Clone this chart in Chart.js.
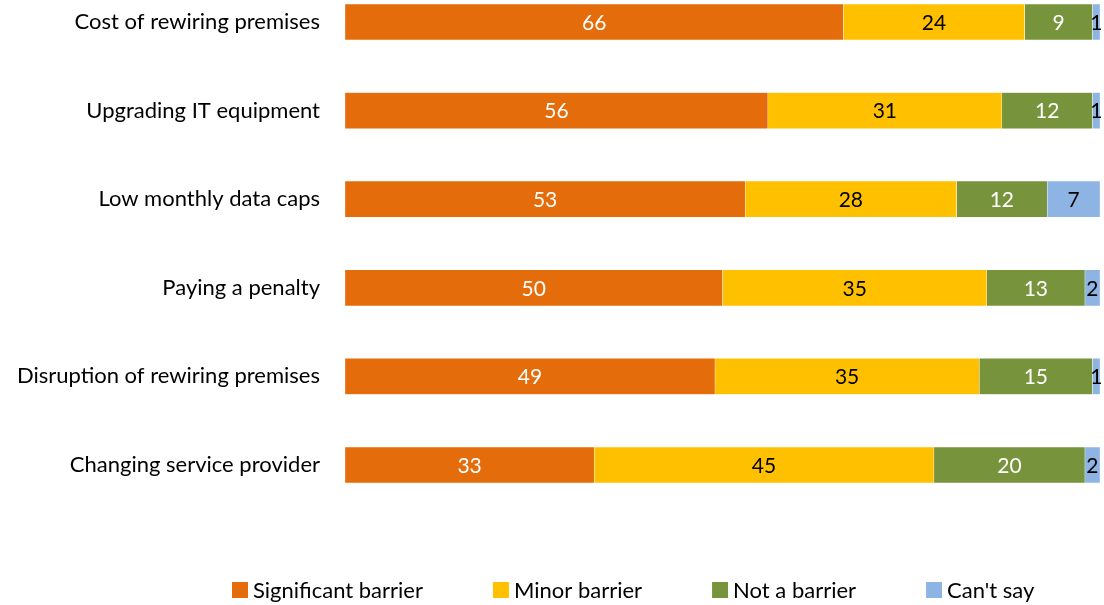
<!DOCTYPE html>
<html><head><meta charset="utf-8">
<script src="https://cdn.jsdelivr.net/npm/chart.js@4/dist/chart.umd.min.js"></script>
<style>html,body{margin:0;padding:0;background:#fff}#wrap{width:1104px;height:605px;position:relative}</style>
</head><body><div id="wrap"><canvas id="c"></canvas></div>
<script>
const categories = ["Cost of rewiring premises","Upgrading IT equipment","Low monthly data caps","Paying a penalty","Disruption of rewiring premises","Changing service provider"];
const significant = [66, 56, 53, 50, 49, 33];
const minor = [24, 31, 28, 35, 35, 45];
const notBarrier = [9, 12, 12, 13, 15, 20];
const cantSay = [1, 1, 7, 2, 1, 2];
const seriesNames = ["Significant barrier","Minor barrier","Not a barrier","Can't say"];
const colors = ["#E46C0A","#FFC000","#77933C","#8EB4E3"];
const labelColors = ["#ffffff","#000000","#ffffff","#000000"];
const FONT = "Lato, 'Open Sans', sans-serif";

const labelPlugin = {
  id: 'barLabels',
  afterDatasetsDraw(chart) {
    const ctx = chart.ctx;
    ctx.save();
    ctx.font = "21px " + FONT;
    ctx.textAlign = 'center';
    ctx.textBaseline = 'middle';
    chart.data.datasets.forEach((ds, di) => {
      const meta = chart.getDatasetMeta(di);
      meta.data.forEach((el, i) => {
        ctx.fillStyle = labelColors[di];
        ctx.fillText(String(ds.data[i]), (el.x + el.base) / 2, el.y + 1);
      });
    });
    ctx.restore();
  }
};
const legendPlugin = {
  id: 'customLegend',
  afterDraw(chart) {
    const ctx = chart.ctx;
    ctx.save();
    ctx.font = "22px " + FONT;
    ctx.textBaseline = 'middle';
    let x = 232; const y = 590;
    chart.data.datasets.forEach((ds, di) => {
      ctx.fillStyle = ds.backgroundColor;
      ctx.fillRect(x, y - 8, 16, 16);
      ctx.fillStyle = '#000';
      ctx.fillText(ds.label, x + 21, y + 1);
      x += 21 + ctx.measureText(ds.label).width + 70;
    });
    ctx.restore();
  }
};

const seriesData = [significant, minor, notBarrier, cantSay];
new Chart(document.getElementById('c'), {
  type: 'bar',
  data: {
    labels: categories,
    datasets: seriesData.map((d, i) => ({
      label: seriesNames[i], data: d, backgroundColor: colors[i],
      borderColor: '#ffffff', borderWidth: 0.5, borderSkipped: false,
      barThickness: 36, clip: false
    }))
  },
  options: {
    indexAxis: 'y', responsive: true, maintainAspectRatio: false, animation: false,
    layout: { padding: { top: 22, bottom: 140, right: 4, left: 0 } },
    plugins: { legend: { display: false }, tooltip: { enabled: false } },
    scales: {
      x: { stacked: true, min: 0, max: 100, display: false },
      y: {
        stacked: true, offset: false,
        grid: { display: false, drawTicks: false }, border: { display: false },
        ticks: { color: '#000', font: { family: FONT, size: 22 }, padding: 25 },
        afterFit(scale) { scale.width = 345; scale.paddingTop = 0; scale.paddingBottom = 0; }
      }
    }
  },
  plugins: [labelPlugin, legendPlugin]
});
</script></body></html>
